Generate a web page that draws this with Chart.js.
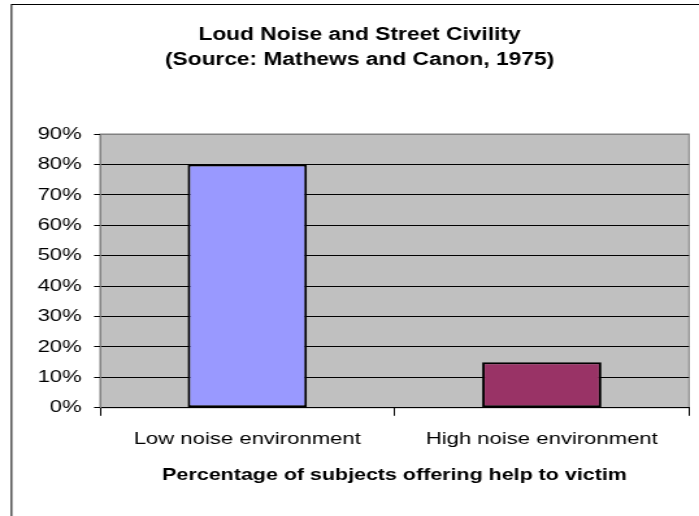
<!DOCTYPE html>
<html>
<head>
<meta charset="utf-8">
<script src="https://cdn.jsdelivr.net/npm/chart.js@4/dist/chart.umd.min.js"></script>
<style>
  html, body { margin: 0; padding: 0; background: #fff; overflow: hidden; }
  #wrap { position: absolute; left: 0; top: 0; transform: scaleX(1.29926); transform-origin: 0 0; }
</style>
</head>
<body>
<div id="wrap"><canvas id="noise" width="538" height="516"></canvas></div>
<script>
// data
const categories = ['Low noise environment', 'High noise environment'];
const helpPct = [80, 15];
const barColors = ['#9999FF', '#993366'];
const yTickLabels = ['0%', '10%', '20%', '30%', '40%', '50%', '60%', '70%', '80%', '90%'];
const titleLines = ['Loud Noise and Street Civility', '(Source: Mathews and Canon, 1975)'];
const xAxisTitle = 'Percentage of subjects offering help to victim';

const FONT = "'Liberation Sans', Arial, sans-serif";

// white page, excel-like chart border and grey plot area
const plotBg = {
  id: 'plotBg',
  beforeDraw(chart) {
    const {ctx, chartArea: a} = chart;
    ctx.save();
    ctx.fillStyle = '#fff';
    ctx.fillRect(0, 0, chart.width, chart.height);
    ctx.strokeStyle = '#000';
    ctx.lineWidth = 1;
    ctx.strokeRect(8.85, 4.5, chart.width + 20, chart.height + 20);
    ctx.fillStyle = '#C0C0C0';
    ctx.fillRect(a.left, a.top, a.right - a.left, a.bottom - a.top);
    ctx.strokeStyle = '#808080';
    ctx.strokeRect(a.left, a.top, a.right - a.left, a.bottom - a.top);
    ctx.restore();
  }
};

const ctx = document.getElementById('noise').getContext('2d');
const chart = new Chart(ctx, {
  type: 'bar',
  data: {
    labels: categories,
    datasets: [{
      data: helpPct,
      backgroundColor: barColors,
      borderColor: '#000',
      borderWidth: 2,
      borderSkipped: false,
      barPercentage: 0.405,
      categoryPercentage: 1
    }]
  },
  plugins: [plotBg],
  options: {
    responsive: false,
    devicePixelRatio: 1,
    animation: false,
    layout: { padding: { left: 23.1, right: 7.7, top: 0, bottom: 31 } },
    plugins: {
      legend: { display: false },
      tooltip: { enabled: false },
      title: {
        display: true,
        text: titleLines,
        color: '#000',
        font: { family: FONT, size: 17.5, weight: 'bold', lineHeight: 25 / 17.5 },
        padding: { top: 23, bottom: 61 }
      }
    },
    scales: {
      x: {
        grid: { drawOnChartArea: false, drawTicks: true, tickLength: 8, color: '#000', offset: true },
        border: { color: '#000' },
        ticks: { color: '#000', font: { family: FONT, size: 17 }, padding: 13, maxRotation: 0, autoSkip: false },
        title: {
          display: true,
          text: xAxisTitle,
          color: '#000',
          font: { family: FONT, size: 16.5, weight: 'bold' },
          padding: { top: 3, bottom: 0 }
        }
      },
      y: {
        min: 0,
        max: 90,
        afterFit: s => { s.width = 53.9; },
        grid: {
          color: c => (c.tick && c.tick.value === 90) ? '#808080' : '#000',
          tickColor: '#000',
          tickLength: 4.6
        },
        border: { color: '#808080' },
        ticks: {
          stepSize: 10,
          color: '#000',
          padding: 9.5,
          font: { family: FONT, size: 17 },
          callback: (v, i) => yTickLabels[i]
        }
      }
    }
  }
});
</script>
</body>
</html>
